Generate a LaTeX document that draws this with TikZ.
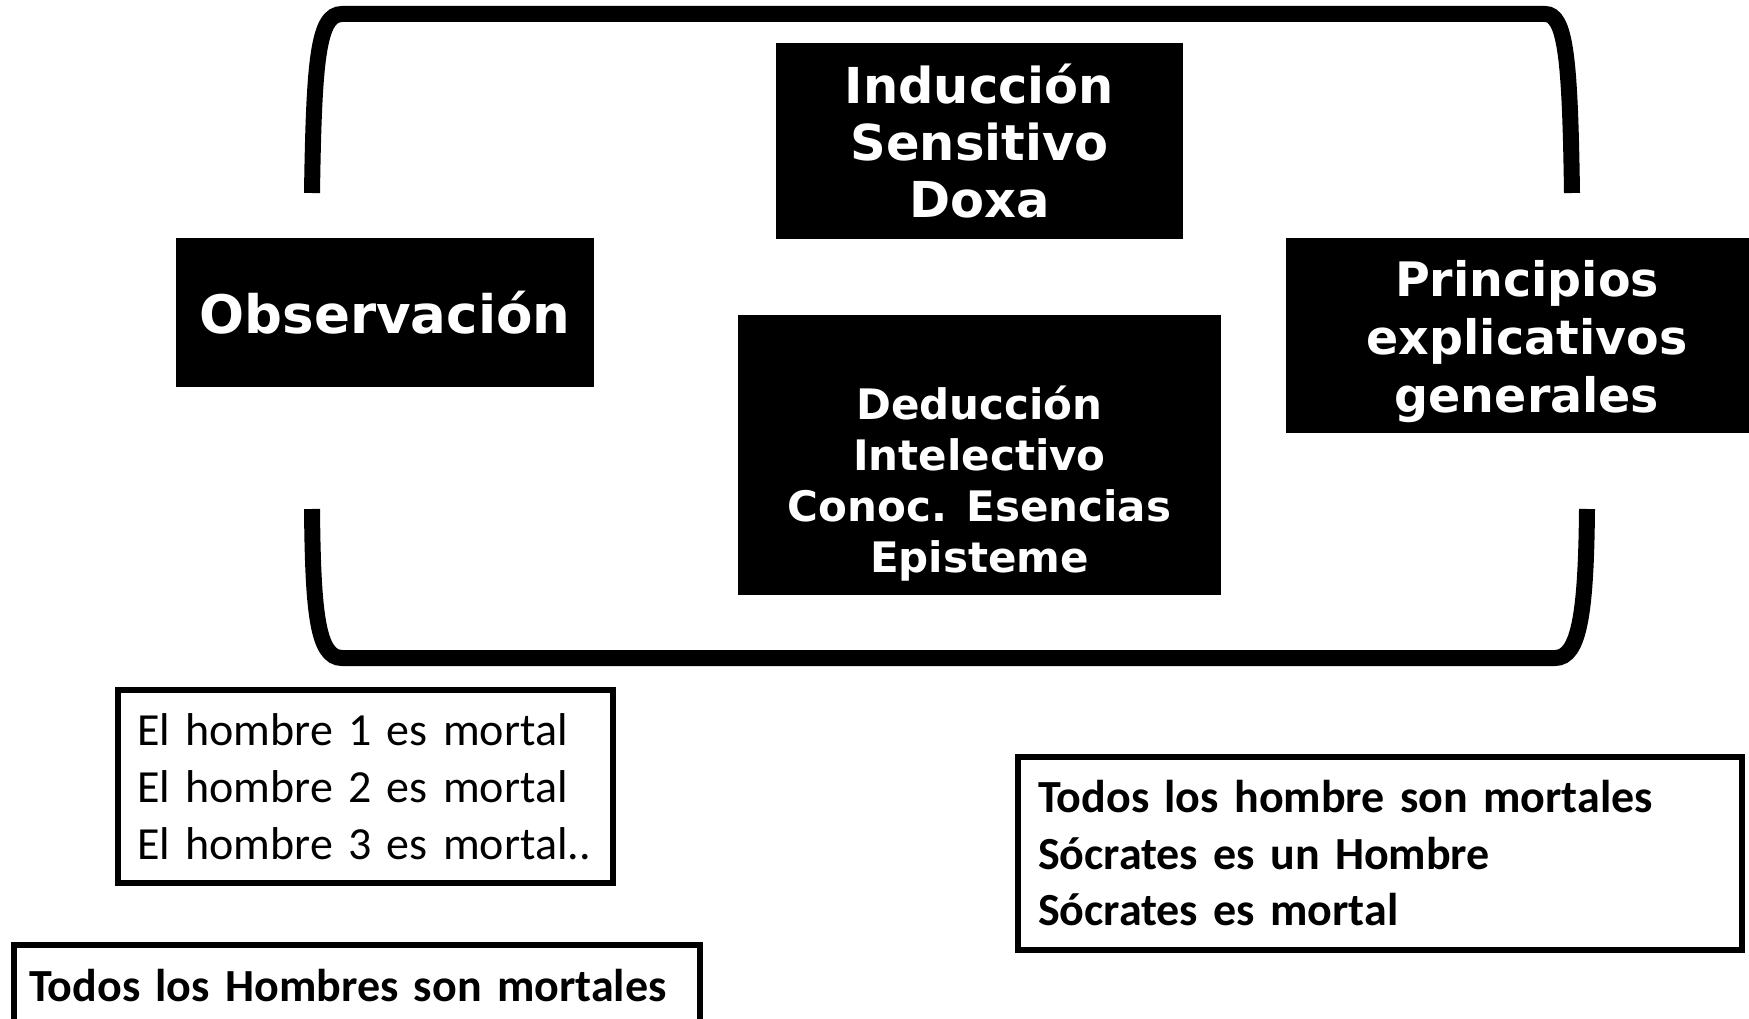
\documentclass[tikz,border=0pt]{standalone}
\usepackage{fontspec}
\setmainfont{Carlito}
\newfontfamily\verdfont{DejaVu Sans}

\begin{document}
\begin{tikzpicture}[x = 1pt, y = -1pt]
\tikzstyle{every node} = [font = \verdfont\bfseries]
\tikzstyle{blkbox} = [fill = black, text = white, align = center, inner sep = 0pt]
\tikzstyle{blktxt} = [text = white, align = center, inner sep = 0pt]
\tikzstyle{wbox} = [draw, line width = 6pt, fill = white, align = left, inner xsep = 15pt, inner ysep = 0pt]
\tikzstyle{brkt} = [line width = 16pt]

\clip (0,0) rectangle (1749,1019);

			\draw [brkt] (312,193) .. controls (314,60) and (318,14) .. (342,14) -- (1545,14) .. controls (1566,14) and (1570,60) .. (1572,193); %top bracket
			\draw [brkt] (312,509) .. controls (313,610) and (317,658) .. (342,658) -- (1555,658) .. controls (1580,658) and (1586,610) .. (1587,509); %bottom bracket

\node [blkbox, minimum width = 418pt, minimum height = 149pt, font = \verdfont\bfseries\fontsize{53}{60}\selectfont] (observacion) at (385,312.5) {Observación};
\node [blkbox, minimum width = 407pt, minimum height = 196pt, font = \verdfont\bfseries\fontsize{49.5}{57}\selectfont] (induccion) at (979.5,141) {Inducción\\Sensitivo\\Doxa};
\node [blkbox, minimum width = 483pt, minimum height = 280pt] (deduccion) at (979.5,455) {};
\node [blktxt, font = \verdfont\bfseries\fontsize{42}{51}\selectfont] (deducciontxt) at (979.5,484) {Deducción\\Intelectivo\\Conoc. Esencias\\Episteme};
\node [blkbox, minimum width = 482pt, minimum height = 195pt] (principios) at (1527,335.5) {};
\node [blktxt, font = \verdfont\bfseries\fontsize{47.5}{58}\selectfont] (principiostxt) at (1527,342) {Principios\\explicativos\\generales};

\node [wbox, inner xsep = 19pt, text width = 457pt, minimum height = 193pt, font = \fontsize{46}{57}\selectfont] (hombres) at (365.5,786.5) {El hombre 1 es mortal\\El hombre 2 es mortal\\El hombre 3 es mortal..};
\node [wbox, inner xsep = 20pt, text width = 684pt, minimum height = 193pt, font = \bfseries\fontsize{46}{56.5}\selectfont] (socrates) at (1380,853.5) {Todos los hombre son mortales\\Sócrates es un Hombre\\Sócrates es mortal};
\node [wbox, text width = 656pt, minimum height = 82pt, font = \bfseries\fontsize{46}{57}\selectfont] (todos) at (357,986) {Todos los Hombres son mortales};
\end{tikzpicture}
\end{document}
